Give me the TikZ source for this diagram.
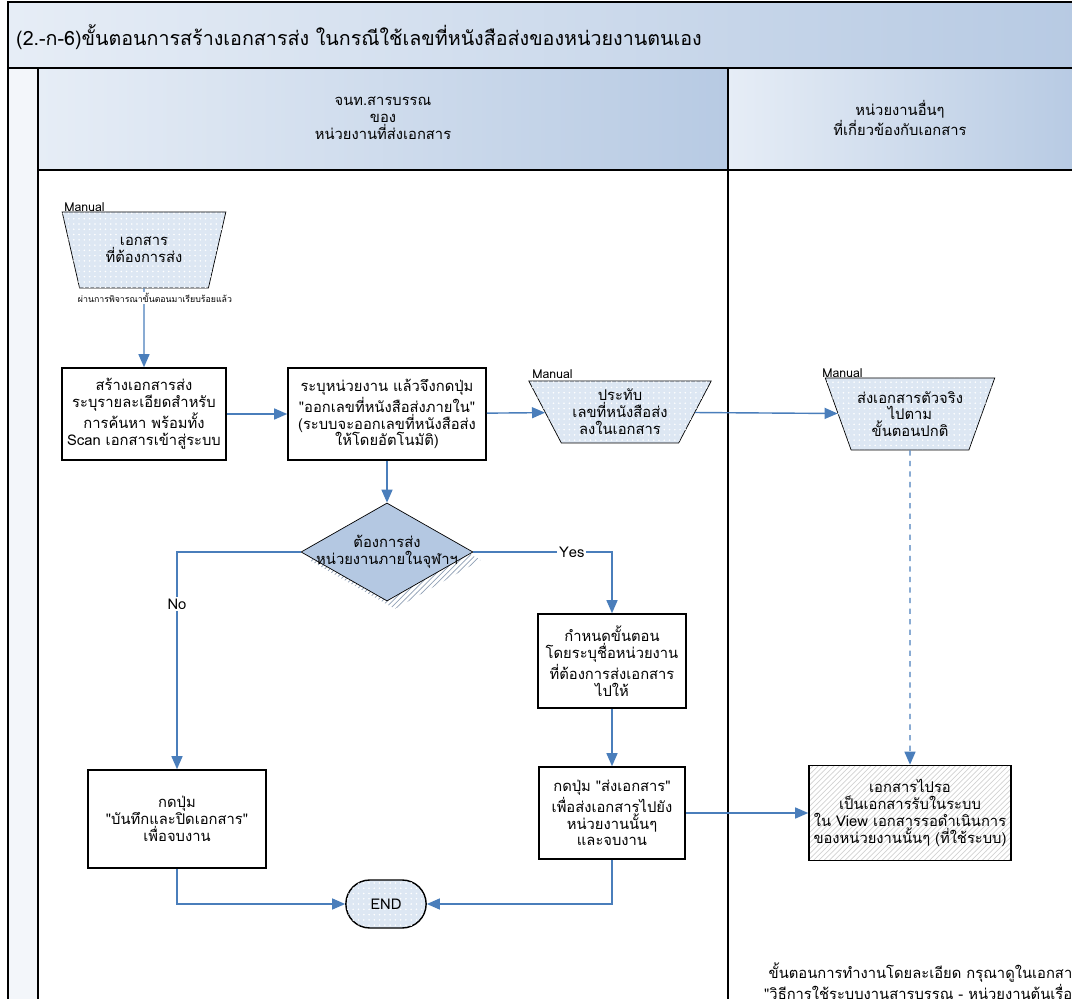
\documentclass[tikz,border=0pt]{standalone}
\usepackage{fontspec}
\setmainfont[Script=Thai, Ligatures=TeXOff]{Loma}
\usetikzlibrary{arrows.meta,shapes.geometric,shapes.misc,positioning,patterns,calc}
\definecolor{flowblue}{HTML}{4A7EBB}
\definecolor{bandlight}{HTML}{E6EDF6}
\definecolor{banddark}{HTML}{B7CAE3}
\definecolor{manualfill}{HTML}{DDE7F3}
\definecolor{decfill}{HTML}{B4C8E2}

\begin{document}
\begin{tikzpicture}[
    x=0.2mm, y=-0.2mm,
    every node/.style={
        font=\fontsize{8.4}{9.6}\selectfont,
        align=center
    },
    procbox/.style={draw, line width=0.9pt, fill=white, inner sep=1pt},
    manualop/.style={
        draw, fill=manualfill, trapezium, trapezium stretches=true,
        shape border rotate=180, inner sep=0pt,
        postaction={pattern=dots, pattern color=white}
    },
    decision/.style={draw, diamond, fill=decfill, inner sep=0pt},
    terminal/.style={draw, rounded rectangle, fill=manualfill, line width=0.8pt,
        postaction={pattern=dots, pattern color=white}},
    tag/.style={font=\fontsize{7}{8}\selectfont, anchor=south west, inner sep=0pt},
    flow/.style={draw=flowblue, line width=0.8pt, -{Triangle[length=2.6mm,width=2.2mm]}},
    lane/.style={draw, line width=0.8pt}
]
\useasboundingbox (0,0) rectangle (1072,999);

% pool and lanes
\shade[left color=bandlight, right color=banddark] (8,2) rectangle (1080,68);
\shade[left color=bandlight, right color=banddark] (38,68) rectangle (728,170);
\shade[left color=bandlight, right color=banddark] (728,68) rectangle (1080,170);
\fill[bandlight!50] (8,68) rectangle (38,1010);
\draw[lane] (8,1010) -- (8,2) -- (1080,2);
\draw[lane] (8,68) -- (1080,68);
\draw[lane] (38,68) -- (38,1010);
\draw[lane] (728,68) -- (728,1010);
\draw[lane] (38,170) -- (1080,170);

\node[anchor=west, font=\fontsize{11.2}{14}\selectfont] (title) at (10,37)
    {(2.-ก-6)ขั้นตอนการสร้างเอกสารส่ง ในกรณีใช้เลขที่หนังสือส่งของหน่วยงานตนเอง};
\node (lanesend) at (383,118) {จนท.สารบรรณ\\ของ\\หน่วยงานที่ส่งเอกสาร};
\node (laneother) at (900,118) {หน่วยงานอื่นๆ\\ที่เกี่ยวข้องกับเอกสาร};

% steps
\node[manualop, trapezium left angle=68, trapezium right angle=68,
      minimum width=32.8mm, minimum height=15.2mm] (docin) at (144,250) {เอกสาร\\ที่ต้องการส่ง};
\node[tag] (docintag) at (64,212) {Manual};
\node[procbox, minimum width=32.8mm, minimum height=18.4mm] (create) at (144,414)
    {สร้างเอกสารส่ง\\ระบุรายละเอียดสำหรับ\\การค้นหา พร้อมทั้ง\\Scan เอกสารเข้าสู่ระบบ};
\node[procbox, minimum width=39.6mm, minimum height=18.4mm] (number) at (387,414)
    {ระบุหน่วยงาน แล้วจึงกดปุ่ม\\"ออกเลขที่หนังสือส่งภายใน"\\(ระบบจะออกเลขที่หนังสือส่ง\\ให้โดยอัตโนมัติ)};
\node[manualop, trapezium left angle=60, trapezium right angle=60,
      minimum width=36.8mm, minimum height=12.4mm] (stamp) at (620,412) {ประทับ\\เลขที่หนังสือส่ง\\ลงในเอกสาร};
\node[tag] (stamptag) at (532,379) {Manual};
\node[manualop, trapezium left angle=63, trapezium right angle=63,
      minimum width=34mm, minimum height=14.4mm] (paper) at (910,414) {ส่งเอกสารตัวจริง\\ไปตาม\\ขั้นตอนปกติ};
\node[tag] (papertag) at (822,378) {Manual};

% hatched shadow behind the decision
\node[diamond, pattern=north east lines, pattern color=decfill!80!black,
      minimum width=34.4mm, minimum height=19.6mm] (insideshadow) at (395,560) {};
\node[decision, minimum width=34.4mm, minimum height=19.6mm] (inside) at (387,552) {};
\node (insidetext) at (inside) {ต้องการส่ง\\หน่วยงานภายในจุฬาฯ};
\node[procbox, minimum width=29.6mm, minimum height=18.8mm] (route) at (612,661)
    {กำหนดขั้นตอน\\โดยระบุชื่อหน่วยงาน\\ที่ต้องการส่งเอกสาร\\ไปให้};
\node[procbox, minimum width=29.2mm, minimum height=18.4mm] (sendout) at (612,813)
    {กดปุ่ม "ส่งเอกสาร"\\เพื่อส่งเอกสารไปยัง\\หน่วยงานนั้นๆ\\และจบงาน};
\node[procbox, minimum width=35.6mm, minimum height=19.6mm] (saveclose) at (177,819)
    {กดปุ่ม\\"บันทึกและปิดเอกสาร"\\เพื่อจบงาน};
\node[terminal, minimum width=18.4mm, minimum height=9.6mm] (finish) at (386,904) {END};
\node[procbox, pattern=north east lines, pattern color=gray!35,
      minimum width=40.4mm, minimum height=19mm] (waiting) at (910,813)
    {เอกสารไปรอ\\เป็นเอกสารรับในระบบ\\ใน View เอกสารรอดำเนินการ\\ของหน่วยงานนั้นๆ (ที่ใช้ระบบ)};

% connectors
\draw[flow] (docin) -- (create);
\node[fill=white, font=\fontsize{5}{6}\selectfont, inner sep=1pt] (docinnote) at (155,298)
    {ผ่านการพิจารณาขั้นตอนมาเรียบร้อยแล้ว};
\draw[flow] (create) -- (number);
\draw[flow] (number) -- (stamp);
\draw[flow] (stamp) -- (paper);
\draw[flow, dashed] (paper) -- (waiting);
\draw[flow] (number) -- (inside);
\draw[flow] (inside.east) -| node[pos=0.355, fill=white, inner sep=1pt] {Yes} (route.north);
\draw[flow] (inside.west) -| node[pos=0.62, fill=white, inner sep=1pt] {No} (saveclose.north);
\draw[flow] (route) -- (sendout);
\draw[flow] (sendout) -- (waiting);
\draw[flow] (saveclose.south) |- (finish.west);
\draw[flow] (sendout.south) |- (finish.east);

\node[anchor=north west, align=center] (detailnote) at (758,957)
    {ขั้นตอนการทำงานโดยละเอียด กรุณาดูในเอกสาร\\"วิธีการใช้ระบบงานสารบรรณ - หน่วยงานต้นเรื่อง"};

\end{tikzpicture}
\end{document}
